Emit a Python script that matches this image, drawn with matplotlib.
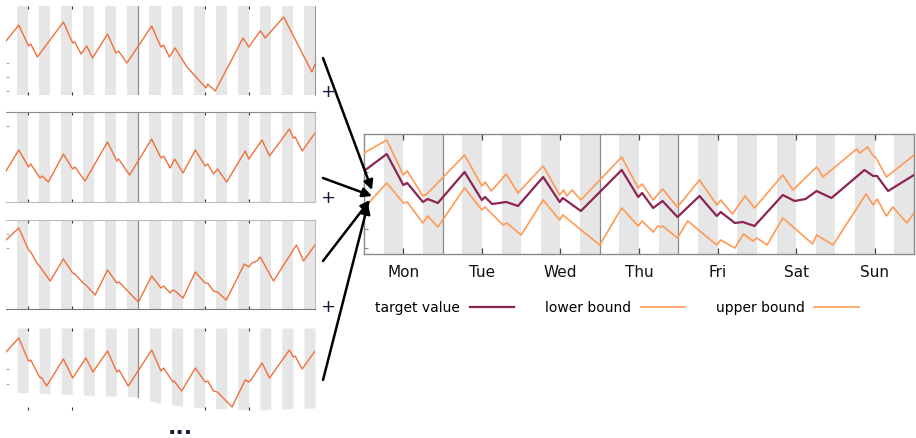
import numpy as np
import matplotlib.pyplot as plt
from matplotlib.lines import Line2D

W, H = 916, 438

# ---- main chart (x in days, y in arbitrary units) ----
days = ["Mon", "Tue", "Wed", "Thu", "Fri", "Sat", "Sun"]

upper_x = [0.0, 0.29, 0.50, 0.55, 0.75, 0.80, 1.28, 1.50, 1.54, 1.62, 1.81, 1.96,
           2.28, 2.49, 2.54, 2.58, 2.65, 2.76, 3.28, 3.49, 3.54, 3.68, 3.80, 3.99,
           4.27, 4.49, 4.54, 4.69, 4.85, 4.97, 5.33, 5.46, 5.76, 5.80, 5.84, 6.27,
           6.31, 6.41, 6.48, 6.51, 6.65, 7.0]
upper_y = [101, 114, 79, 83, 58, 60, 99, 68, 72, 63, 80, 61,
           88, 59, 64, 58, 64, 54, 97, 66, 70, 54, 65, 47,
           74, 49, 54, 40, 58, 46, 79, 64, 87, 83, 77, 105,
           101, 107, 98, 97, 77, 99]

target_x = [0.0, 0.29, 0.50, 0.55, 0.75, 0.81, 0.94, 1.28, 1.50, 1.54, 1.63, 1.81,
            1.96, 2.28, 2.49, 2.53, 2.76, 3.28, 3.49, 3.54, 3.68, 3.80, 3.99, 4.27,
            4.49, 4.54, 4.72, 4.82, 4.97, 5.33, 5.48, 5.62, 5.76, 5.95, 6.37, 6.48,
            6.53, 6.67, 7.0]
target_y = [83, 100, 69, 71, 52, 55, 51, 82, 54, 57, 50, 52,
            48, 77, 52, 56, 43, 84, 57, 61, 46, 53, 37, 58,
            38, 42, 31, 32, 28, 59, 53, 55, 63, 56, 84, 78,
            78, 63, 79]

lower_x = [0.0, 0.29, 0.50, 0.55, 0.75, 0.81, 0.94, 1.28, 1.50, 1.54, 1.77, 1.82,
           2.00, 2.28, 2.49, 2.53, 3.00, 3.28, 3.49, 3.54, 3.68, 3.74, 3.78, 3.80,
           3.99, 4.12, 4.49, 4.54, 4.72, 4.83, 4.95, 5.00, 5.13, 5.33, 5.71, 5.76,
           5.97, 6.39, 6.48, 6.53, 6.65, 6.73, 6.91, 7.0]
lower_y = [46, 71, 51, 52, 31, 38, 27, 66, 44, 47, 29, 31,
           19, 54, 34, 39, 9, 46, 28, 33, 22, 28, 27, 28,
           16, 33, 9, 14, 6, 20, 13, 16, 9, 36, 10, 19,
           9, 60, 49, 55, 38, 47, 31, 41]

main_yticks = [6, 25, 82]

# ---- four small input series (x in days) ----
s1_x = [0.0, 0.29, 0.51, 0.56, 0.71, 1.30, 1.51, 1.56, 1.70, 1.83, 1.96, 2.30,
        2.49, 2.55, 2.74, 3.30, 3.51, 3.57, 3.70, 3.83, 4.10, 4.53, 4.57, 4.74,
        5.37, 5.50, 5.76, 5.80, 5.87, 6.29, 6.93, 7.0]
s1_y = [54, 70, 49, 51, 38, 73, 52, 53, 41, 49, 37, 61,
        42, 44, 32, 69, 48, 50, 38, 47, 28, 7, 11, 4,
        57, 48, 64, 62, 57, 78, 23, 31]

s2_x = [0.0, 0.29, 0.51, 0.56, 0.77, 0.82, 0.96, 1.30, 1.51, 1.56, 1.79, 2.30,
        2.51, 2.55, 2.80, 3.30, 3.51, 3.57, 3.72, 3.82, 4.01, 4.29, 4.51, 4.57,
        4.70, 4.79, 5.00, 5.42, 5.50, 5.80, 5.97, 6.42, 6.51, 6.55, 6.71, 7.0]
s2_y = [31, 52, 35, 38, 24, 26, 20, 48, 33, 35, 21, 60,
        41, 43, 27, 63, 44, 46, 34, 43, 29, 52, 36, 38,
        28, 33, 20, 51, 43, 62, 46, 73, 64, 65, 51, 69]

s3_x = [0.0, 0.29, 0.51, 0.56, 0.70, 0.76, 1.00, 1.30, 1.51, 1.56, 1.75, 1.81,
        2.02, 2.30, 2.51, 2.56, 3.00, 3.30, 3.51, 3.57, 3.72, 3.78, 3.83, 4.01,
        4.29, 4.51, 4.57, 4.70, 4.79, 4.99, 5.40, 5.50, 5.57, 5.68, 5.76, 6.06,
        6.58, 6.74, 7.0]
s3_y = [69, 81, 59, 57, 46, 43, 28, 50, 36, 35, 26, 24,
        14, 39, 26, 27, 7, 33, 21, 23, 16, 19, 18, 11,
        37, 26, 26, 18, 17, 9, 45, 42, 46, 48, 52, 28,
        64, 48, 64]

s4_x = [0.0, 0.29, 0.51, 0.56, 0.76, 0.81, 0.92, 1.30, 1.51, 1.81, 1.97, 2.30,
        2.51, 2.56, 2.77, 3.30, 3.51, 3.57, 3.78, 3.81, 3.98, 4.29, 4.51, 4.57,
        4.70, 4.79, 5.12, 5.42, 5.50, 5.55, 5.80, 5.97, 6.42, 6.51, 6.55, 6.71,
        7.0]
s4_y = [58, 72, 49, 50, 33, 32, 24, 51, 32, 52, 38, 59,
        38, 40, 24, 60, 39, 42, 28, 29, 19, 42, 28, 29,
        19, 18, 3, 30, 28, 30, 47, 32, 60, 53, 54, 41,
        59]

BAND = "#e6e6e6"
SMALL_LINE = "#f0703c"
ORANGE = "#ff9a55"
DARK = "#8c2454"


def px_axes(fig, x0, y0, x1, y1):
    # pixel box (top-left origin) -> axes
    return fig.add_axes([x0 / W, 1 - y1 / H, (x1 - x0) / W, (y1 - y0) / H])


def draw_bands(ax, top, bottom=None):
    for d in range(7):
        for a, b in [(d + 0.25, d + 0.5), (d + 0.75, d + 1.0)]:
            xs = np.linspace(a, b, 10)
            if bottom is None:
                lo = np.zeros_like(xs)
            else:
                lo = np.interp(xs, bottom[0], bottom[1])
            ax.fill_between(xs, lo, top, color=BAND, lw=0, zorder=0)


def small_panel(fig, box, xs, ys, ytop, yticks, spines, bottom=None):
    ax = px_axes(fig, *box)
    draw_bands(ax, ytop, bottom)
    if bottom is None:
        ax.axvline(3, color="#8a8a8a", lw=0.9, zorder=1)
    else:
        ax.axvline(3, color="#8a8a8a", lw=0.9, zorder=1,
                   ymin=np.interp(3, bottom[0], bottom[1]) / ytop)
    ax.plot(xs, ys, color=SMALL_LINE, lw=1.0, zorder=3)
    ax.set_xlim(0, 7)
    ax.set_ylim(0, ytop)
    for side in ["left", "right", "top", "bottom"]:
        ax.spines[side].set_visible(side in spines)
        ax.spines[side].set_color(spines.get(side, "#999999"))
    ax.set_xticks([0.5, 1.5, 4.5, 5.5])
    ax.set_yticks(yticks)
    ax.tick_params(axis="x", direction="in", length=2, width=0.8, color="#333333",
                   top=True, labelbottom=False)
    ax.tick_params(axis="y", direction="in", length=2, width=0.8, color="#aaaaaa",
                   labelleft=False)
    return ax


fig = plt.figure(figsize=(W / 100, H / 100), dpi=100)

small_panel(fig, (6, 6, 315, 95), s1_x, s1_y, 89, [32, 18, 4],
            {"right": "#999999"})
small_panel(fig, (6, 112, 315, 202), s2_x, s2_y, 90, [76],
            {"top": "#8c8c8c", "bottom": "#bbbbbb", "right": "#bbbbbb"})
small_panel(fig, (6, 220, 315, 309), s3_x, s3_y, 89, [75, 61],
            {"top": "#bbbbbb", "bottom": "#777777", "right": "#bbbbbb"})
small_panel(fig, (6, 328, 315, 410), s4_x, s4_y, 82, [41, 26], {},
            bottom=([0, 3.0, 3.5, 4.5, 5.5, 7.0], [18, 13, 6, 2, 0, 2]))

# main chart
ax = px_axes(fig, 364, 134, 914, 254)
draw_bands(ax, 120)
for d in [1, 3, 4]:
    ax.axvline(d, color="#8a8a8a", lw=0.9, zorder=1)
ax.plot(upper_x, upper_y, color=ORANGE, lw=1.2, zorder=3)
ax.plot(lower_x, lower_y, color=ORANGE, lw=1.2, zorder=3)
ax.plot(target_x, target_y, color=DARK, lw=1.6, zorder=4)
ax.set_xlim(0, 7)
ax.set_ylim(0, 120)
ax.set_xticks(np.arange(7) + 0.5)
ax.set_xticklabels(days, fontsize=11, color="#111111")
ax.set_yticks(main_yticks)
ax.tick_params(axis="x", direction="in", length=4, width=0.9, color="#444444",
               top=True, pad=8)
ax.tick_params(axis="y", direction="in", length=3, width=0.9, color="#888888",
               labelleft=False)
for s in ax.spines.values():
    s.set_color("#8a8a8a")
    s.set_linewidth(1.0)

handles = [Line2D([], [], color=DARK, lw=1.6),
           Line2D([], [], color=ORANGE, lw=1.2),
           Line2D([], [], color=ORANGE, lw=1.2)]
fig.legend(handles, ["target value", "lower bound", "upper bound"],
           loc="center", bbox_to_anchor=(617 / W, 1 - 308 / H), ncol=3,
           frameon=False, markerfirst=False, fontsize=10, handlelength=3.2,
           handletextpad=0.7, columnspacing=2.2)

# arrows into the main chart
starts = [(323, 58), (323, 178), (323, 261), (323, 380)]
ends = [(372, 190), (372, 196), (370, 200), (368, 204)]
for (x0, y0), (x1, y1) in zip(starts, ends):
    fig.add_artist(plt.Annotation(
        "", xy=(x1 / W, 1 - y1 / H), xytext=(x0 / W, 1 - y0 / H),
        xycoords="figure fraction", textcoords="figure fraction",
        arrowprops=dict(arrowstyle="-|>", color="black", lw=1.8,
                        mutation_scale=14, shrinkA=0, shrinkB=0)))

for yp in [92, 198, 307]:
    fig.text(328 / W, 1 - yp / H, "+", fontsize=13, color="#1a1a3a",
             ha="center", va="center")
fig.text(180 / W, 1 - 428 / H, "...", fontsize=16, fontweight="bold",
         color="#1a1a3a", ha="center", va="center")

fig.savefig("out.png", dpi=100)
